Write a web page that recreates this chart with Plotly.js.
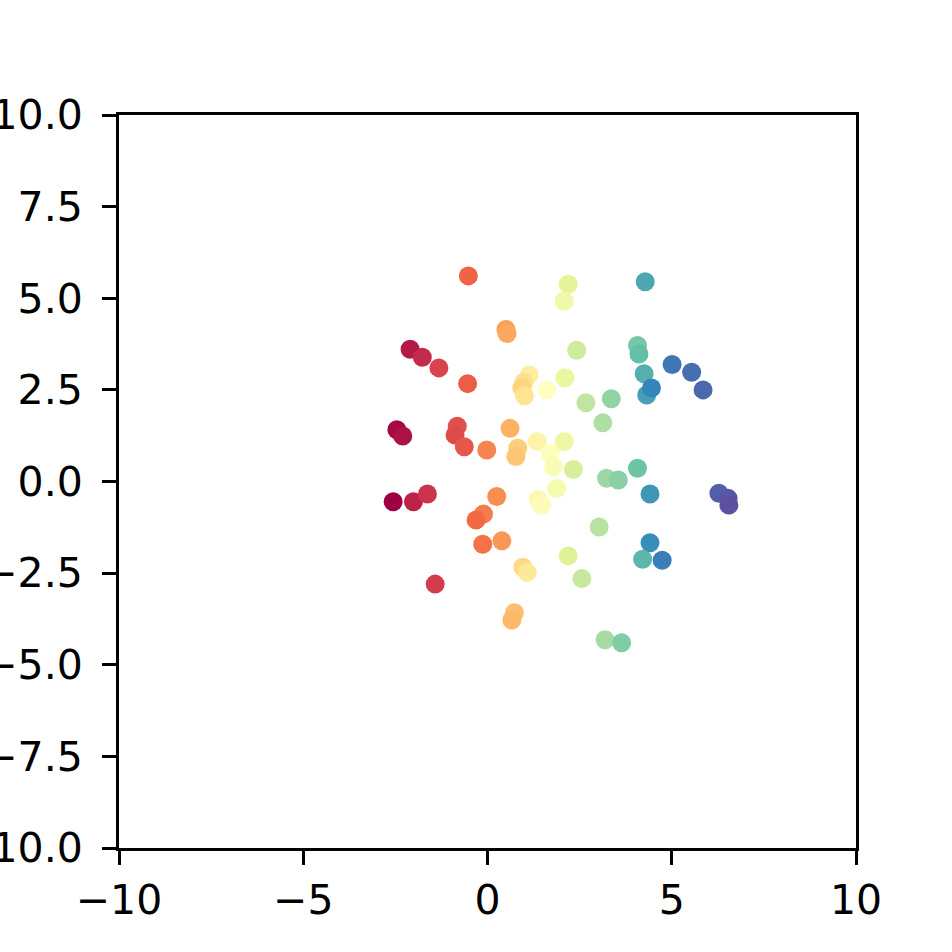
<!DOCTYPE html>
<html>
<head>
<meta charset="utf-8">
<script src="https://cdn.plot.ly/plotly-3.0.1.min.js"></script>
<style>html,body{margin:0;padding:0;background:#fff;}#chart{width:952px;height:952px;}</style>
</head>
<body>
<div id="chart"></div>
<script>
const xValues = [-0.52, 2.19, 2.08, 4.28, 0.50, 0.53, -2.10, -1.77, -1.32, -0.54,
  1.13, 0.99, 0.93, 1.00, 1.61, 2.42, 2.10, 2.67, 3.36, 3.13,
  4.07, 4.11, 4.25, 4.32, 4.45, 5.01, 5.54, 5.85, -2.46, -2.30,
  -0.82, -0.88, -0.63, -0.02, 0.61, 1.35, 2.08, 0.82, 0.77, 1.70,
  1.79, 2.33, 1.88, 1.38, 1.47, -2.56, -2.01, -1.63, 0.25, -0.11,
  -0.31, -0.13, 0.39, 0.96, 1.08, -1.42, 0.73, 0.66, 3.23, 3.55,
  4.07, 4.41, 6.28, 6.53, 6.55, 3.03, 4.41, 4.21, 4.74, 2.19,
  2.56, 3.19, 3.64];
const yValues = [5.61, 5.38, 4.92, 5.45, 4.15, 4.04, 3.61, 3.39, 3.10, 2.67,
  2.91, 2.71, 2.56, 2.34, 2.50, 3.58, 2.83, 2.15, 2.26, 1.60,
  3.71, 3.48, 2.94, 2.36, 2.55, 3.19, 2.98, 2.50, 1.41, 1.24,
  1.51, 1.27, 0.95, 0.86, 1.45, 1.09, 1.09, 0.91, 0.68, 0.77,
  0.40, 0.33, -0.19, -0.50, -0.64, -0.55, -0.55, -0.34, -0.41, -0.89,
  -1.05, -1.71, -1.62, -2.34, -2.48, -2.80, -3.58, -3.78, 0.09, 0.04,
  0.36, -0.34, -0.32, -0.46, -0.64, -1.24, -1.67, -2.12, -2.15, -2.03,
  -2.65, -4.32, -4.40];
const xTickVals = [-10, -5, 0, 5, 10];
const yTickVals = [-10, -7.5, -5, -2.5, 0, 2.5, 5, 7.5, 10];
const spectral = ['#9e0142','#d53e4f','#f46d43','#fdae61','#fee08b','#ffffbf','#e6f598','#abdda4','#66c2a5','#3288bd','#5e4fa2'];
const colorscale = spectral.map((c, i) => [i / (spectral.length - 1), c]);

// colour each point by the rank of its x value (as in the reference)
const order = xValues.map((v, i) => i).sort((a, b) => xValues[a] - xValues[b]);
const colorRank = new Array(xValues.length);
order.forEach((idx, r) => { colorRank[idx] = r; });

const trace = {
  type: 'scatter',
  mode: 'markers',
  x: xValues,
  y: yValues,
  marker: {
    size: 19,
    color: colorRank,
    colorscale: colorscale,
    cmin: 0,
    cmax: xValues.length - 1,
    line: {width: 0},
    showscale: false
  },
  hoverinfo: 'skip'
};

const axisCommon = {
  range: [-10, 10],
  showgrid: false,
  zeroline: false,
  showline: true,
  mirror: true,
  linecolor: '#000',
  linewidth: 3,
  ticks: 'outside',
  ticklen: 14,
  tickwidth: 3,
  tickcolor: '#000',
  tickfont: {family: 'DejaVu Sans', size: 41, color: '#000'},
  tickmode: 'array'
};

const layout = {
  width: 952,
  height: 952,
  margin: {l: 119, r: 96, t: 115, b: 104},
  paper_bgcolor: '#fff',
  plot_bgcolor: '#fff',
  showlegend: false,
  xaxis: Object.assign({}, axisCommon, {
    tickvals: xTickVals,
    ticktext: xTickVals.map(v => v < 0 ? '\u2212' + Math.abs(v) : String(v)),
    ticklabelstandoff: 0
  }),
  yaxis: Object.assign({}, axisCommon, {
    tickvals: yTickVals,
    ticktext: yTickVals.map(v => (v < 0 ? '\u2212' : '') + Math.abs(v).toFixed(1)),
    ticklabelstandoff: 11
  })
};

Plotly.newPlot('chart', [trace], layout, {staticPlot: true, displayModeBar: false});
</script>
</body>
</html>
